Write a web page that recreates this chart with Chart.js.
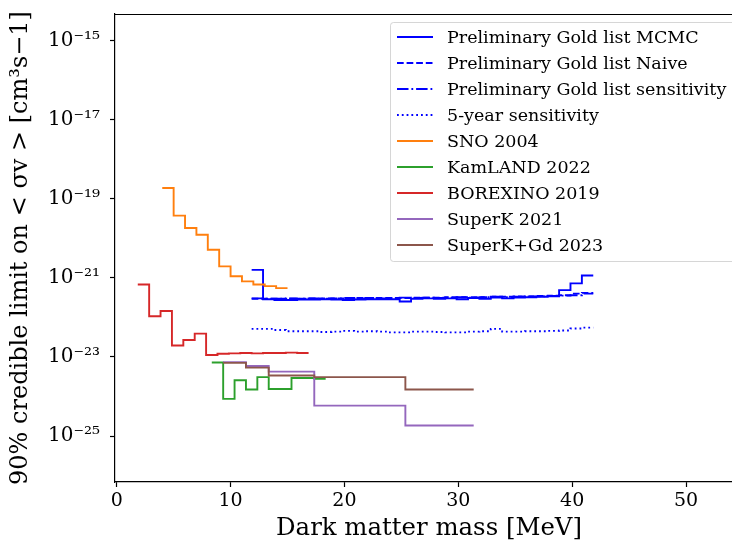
<!DOCTYPE html>
<html>
<head>
<meta charset="utf-8">
<script src="https://cdn.jsdelivr.net/npm/chart.js@4.4.1/dist/chart.umd.min.js"></script>
<style>
  html, body { margin: 0; padding: 0; background: #fff; }
  #wrap { width: 732px; height: 546px; overflow: hidden; position: relative; }
  #wrap canvas { position: absolute; left: 0; top: 0; }
</style>
</head>
<body>
<div id="wrap"><canvas id="myChart" width="760" height="546"></canvas></div>
<script>
// bin edges [MeV]
const goldEdges = [11.85, 12.85, 13.85, 14.85, 15.85, 16.85, 17.85, 18.85, 19.85, 20.85, 21.85,
    22.85, 23.85, 24.85, 25.85, 26.85, 27.85, 28.85, 29.85, 30.85, 31.85, 32.85, 33.85, 34.85,
    35.85, 36.85, 37.85, 38.85, 39.85, 40.85, 41.85];
const snoEdges = [4, 5, 6, 7, 8, 9, 10, 11, 12, 13, 14, 15];
const borexinoEdges = [1.85, 2.85, 3.85, 4.85, 5.85, 6.85, 7.85, 8.85, 9.85, 10.85, 11.85, 12.85,
    13.85, 14.85, 15.85, 16.85];
const kamlandEdges = [8.35, 9.35, 10.35, 11.35, 12.35, 13.35, 14.35, 15.35, 16.35, 17.35, 18.35];
const superkEdges = [9.35, 11.35, 13.35, 17.35, 25.35, 31.35];

// limits on <sigma v> [cm^3 s^-1]
const goldMCMC = [1.585e-21, 2.88e-22, 2.75e-22, 2.75e-22, 2.82e-22, 2.82e-22, 2.88e-22, 2.82e-22,
    2.75e-22, 2.82e-22, 2.88e-22, 2.88e-22, 2.88e-22, 2.51e-22, 2.95e-22, 3.02e-22, 2.95e-22,
    3.02e-22, 2.88e-22, 3.09e-22, 2.95e-22, 3.16e-22, 3.02e-22, 3.16e-22, 3.24e-22, 3.31e-22,
    3.39e-22, 4.90e-22, 7.24e-22, 1.148e-21];
const goldNaive = [2.95e-22, 2.95e-22, 2.95e-22, 2.95e-22, 2.95e-22, 3.02e-22, 3.02e-22, 3.02e-22,
    3.02e-22, 3.09e-22, 3.09e-22, 3.09e-22, 3.09e-22, 3.09e-22, 3.16e-22, 3.16e-22, 3.16e-22,
    3.24e-22, 3.24e-22, 3.24e-22, 3.24e-22, 3.31e-22, 3.31e-22, 3.39e-22, 3.39e-22, 3.47e-22,
    3.55e-22, 3.63e-22, 3.98e-22, 4.17e-22];
const goldSensitivity = [3.02e-22, 2.95e-22, 2.95e-22, 3.02e-22, 2.95e-22, 3.02e-22, 2.95e-22,
    3.02e-22, 3.09e-22, 3.02e-22, 3.09e-22, 3.02e-22, 3.09e-22, 3.16e-22, 3.09e-22, 3.16e-22,
    3.09e-22, 3.16e-22, 3.24e-22, 3.16e-22, 3.24e-22, 3.31e-22, 3.24e-22, 3.31e-22, 3.39e-22,
    3.39e-22, 3.47e-22, 3.55e-22, 3.63e-22, 3.98e-22];
const fiveYear = [5.13e-23, 5.13e-23, 4.79e-23, 4.47e-23, 4.47e-23, 4.47e-23, 4.27e-23, 4.37e-23,
    4.57e-23, 4.37e-23, 4.47e-23, 4.37e-23, 4.17e-23, 4.17e-23, 4.37e-23, 4.37e-23, 4.27e-23,
    4.17e-23, 4.17e-23, 4.37e-23, 4.47e-23, 5.13e-23, 4.37e-23, 4.37e-23, 4.47e-23, 4.47e-23,
    4.57e-23, 4.68e-23, 5.25e-23, 5.50e-23];
const sno2004 = [1.86e-19, 3.72e-20, 1.82e-20, 1.23e-20, 5.13e-21, 1.95e-21, 1.10e-21, 8.13e-22,
    6.76e-22, 6.17e-22, 5.50e-22];
const kamland2022 = [7.24e-24, 8.71e-25, 2.57e-24, 1.51e-24, 3.09e-24, 1.55e-24, 1.55e-24,
    2.95e-24, 2.95e-24, 2.82e-24];
const borexino2019 = [6.76e-22, 1.07e-22, 1.45e-22, 1.95e-23, 2.69e-23, 3.89e-23, 1.12e-23,
    1.20e-23, 1.23e-23, 1.26e-23, 1.23e-23, 1.26e-23, 1.26e-23, 1.29e-23, 1.26e-23];
const superk2021 = [7.41e-24, 5.89e-24, 4.27e-24, 5.89e-25, 1.86e-25];
const superkGd2023 = [7.08e-24, 5.37e-24, 3.39e-24, 3.09e-24, 1.51e-24];

const xTicks = [0, 10, 20, 30, 40, 50];
const yTicks = [1e-25, 1e-23, 1e-21, 1e-19, 1e-17, 1e-15];
const yTickLabels = ['10⁻²⁵', '10⁻²³', '10⁻²¹', '10⁻¹⁹', '10⁻¹⁷', '10⁻¹⁵'];

const FONT = "'DejaVu Serif', serif";

// step 'post': value i holds from edge i to edge i+1
function stepPoints(edges, values) {
    return edges.map((x, i) => ({x: x, y: values[Math.min(i, values.length - 1)]}));
}

function series(label, edges, values, color, dash) {
    return {
        label: label,
        data: stepPoints(edges, values),
        borderColor: color,
        backgroundColor: color,
        borderWidth: 1.9,
        borderDash: dash || [],
        stepped: true,
        pointRadius: 0,
        fill: false
    };
}

const datasets = [
    series('Preliminary Gold list MCMC', goldEdges, goldMCMC, '#0000ff'),
    series('Preliminary Gold list Naive', goldEdges, goldNaive, '#0000ff', [6.7, 2.9]),
    series('Preliminary Gold list sensitivity', goldEdges, goldSensitivity, '#0000ff', [11.5, 2.9, 1.8, 2.9]),
    series('5-year sensitivity', goldEdges, fiveYear, '#0000ff', [1.8, 3.0]),
    series('SNO 2004', snoEdges, sno2004, '#ff7f0e'),
    series('KamLAND 2022', kamlandEdges, kamland2022, '#2ca02c'),
    series('BOREXINO 2019', borexinoEdges, borexino2019, '#d62728'),
    series('SuperK 2021', superkEdges, superk2021, '#9467bd'),
    series('SuperK+Gd 2023', superkEdges, superkGd2023, '#8c564b')
];
// later series drawn on top, like the original
datasets.forEach((d, i) => { d.order = -i; });

// legend box inside the axes, upper right
const boxLegend = {
    id: 'boxLegend',
    afterDraw(chart) {
        const ctx = chart.ctx;
        const area = chart.chartArea;
        const x0 = 390, y0 = area.top + 8;
        const x1 = area.right - 8;
        const rowH = 26;
        const h = rowH * chart.data.datasets.length + 5;
        ctx.save();
        ctx.globalAlpha = 0.8;
        ctx.fillStyle = '#ffffff';
        ctx.strokeStyle = '#cccccc';
        ctx.lineWidth = 1;
        ctx.beginPath();
        ctx.roundRect(x0 + 0.5, y0 + 0.5, x1 - x0, h, 3);
        ctx.fill();
        ctx.stroke();
        ctx.globalAlpha = 1;
        chart.data.datasets.forEach((ds, i) => {
            const y = y0 + 15 + i * rowH;
            ctx.strokeStyle = ds.borderColor;
            ctx.lineWidth = ds.borderWidth;
            ctx.setLineDash(ds.borderDash);
            ctx.beginPath();
            ctx.moveTo(x0 + 7, y);
            ctx.lineTo(x0 + 43, y);
            ctx.stroke();
            ctx.setLineDash([]);
            ctx.fillStyle = '#000';
            ctx.font = '17.5px ' + FONT;
            ctx.textBaseline = 'middle';
            ctx.fillText(ds.label, x0 + 57, y + 1);
        });
        ctx.restore();
    }
};

// top spine
const topSpine = {
    id: 'topSpine',
    afterDraw(chart) {
        const ctx = chart.ctx;
        const a = chart.chartArea;
        const y = Math.round(a.top) + 0.5;
        ctx.save();
        ctx.strokeStyle = '#000';
        ctx.lineWidth = 1.2;
        ctx.beginPath();
        ctx.moveTo(a.left, y);
        ctx.lineTo(a.right, y);
        ctx.stroke();
        ctx.restore();
    }
};

new Chart(document.getElementById('myChart').getContext('2d'), {
    type: 'line',
    data: {datasets: datasets},
    plugins: [topSpine, boxLegend],
    options: {
        responsive: false,
        animation: false,
        layout: {padding: {top: 14, right: 17, left: 0, bottom: 0}},
        plugins: {legend: {display: false}, tooltip: {enabled: false}},
        scales: {
            x: {
                type: 'linear',
                min: -0.15,
                max: 55,
                afterFit: (s) => { s.height = 64; s.paddingLeft = 0; s.paddingRight = 0; },
                afterBuildTicks: (s) => { s.ticks = xTicks.map(v => ({value: v})); },
                border: {display: true, color: '#000', width: 1.2},
                grid: {drawOnChartArea: false, drawTicks: true, tickLength: 5, color: '#000', tickWidth: 1.2},
                ticks: {color: '#000', font: {family: FONT, size: 19}, padding: 3, maxRotation: 0},
                title: {display: true, text: 'Dark matter mass [MeV]', color: '#000',
                    font: {family: FONT, size: 24.4}, padding: {top: 0, bottom: 3}}
            },
            y: {
                type: 'logarithmic',
                min: Math.pow(10, -26.16),
                max: Math.pow(10, -14.333),
                afterFit: (s) => { s.width = 115; s.paddingTop = 0; s.paddingBottom = 0; },
                afterBuildTicks: (s) => { s.ticks = yTicks.map(v => ({value: v})); },
                border: {display: true, color: '#000', width: 1.2},
                grid: {drawOnChartArea: false, drawTicks: true, tickLength: 5, color: '#000', tickWidth: 1.2},
                ticks: {
                    color: '#000',
                    font: {family: FONT, size: 20},
                    padding: 10,
                    callback: (v) => {
                        const i = yTicks.findIndex(t => Math.abs(Math.log10(t) - Math.log10(v)) < 1e-6);
                        return i >= 0 ? yTickLabels[i] : '';
                    }
                },
                title: {display: true, text: '90% credible limit on < σv > [cm³s−1]', color: '#000',
                    font: {family: FONT, size: 24}, padding: {top: 6, bottom: 0}}
            }
        }
    }
});
</script>
</body>
</html>
